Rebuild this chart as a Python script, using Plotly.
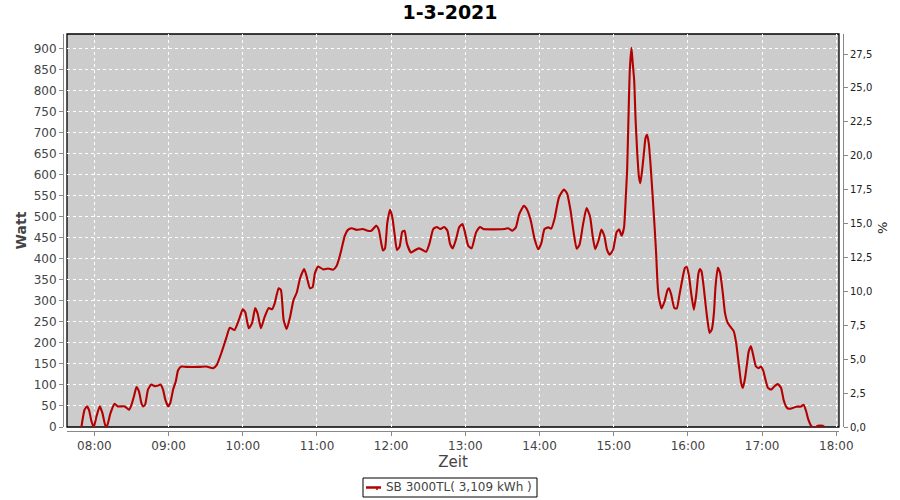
import plotly.graph_objects as go

DAY = "2021-03-01 "

times = [
    "07:49:30", "07:52:00", "07:54:00", "07:55:40", "07:57:40", "07:59:30", "08:01:40", "08:04:20",
    "08:06:30", "08:08:40", "08:10:00", "08:13:00", "08:16:20", "08:19:00", "08:24:30", "08:28:00",
    "08:30:00", "08:32:00", "08:34:00", "08:36:00", "08:38:00", "08:39:20", "08:41:00", "08:43:20",
    "08:46:00", "08:48:50", "08:51:00", "08:53:20", "08:55:30", "08:57:20", "08:59:40", "09:01:20",
    "09:03:40", "09:05:50", "09:07:40", "09:10:20", "09:14:20", "09:25:00", "09:30:30", "09:36:00",
    "09:39:00", "09:42:40", "09:46:40", "09:49:30", "09:53:20", "09:56:50", "10:00:00", "10:02:00",
    "10:04:50", "10:07:30", "10:10:00", "10:12:00", "10:14:40", "10:17:40", "10:21:00", "10:23:40",
    "10:25:40", "10:29:00", "10:30:50", "10:33:00", "10:35:30", "10:38:20", "10:41:00", "10:43:40",
    "10:46:20", "10:49:40", "10:51:40", "10:54:20", "10:56:30", "10:58:20", "11:01:00", "11:05:00",
    "11:09:00", "11:13:00", "11:15:50", "11:18:00", "11:20:00", "11:22:30", "11:25:00", "11:28:00",
    "11:32:00", "11:37:00", "11:41:00", "11:44:00", "11:48:00", "11:50:00", "11:52:00", "11:53:20",
    "11:55:00", "11:56:50", "11:59:00", "12:00:50", "12:02:40", "12:04:40", "12:06:50", "12:09:00",
    "12:10:50", "12:12:40", "12:16:00", "12:18:50", "12:22:20", "12:25:30", "12:28:20", "12:31:00",
    "12:34:00", "12:37:00", "12:39:40", "12:42:50", "12:45:30", "12:47:40", "12:49:50", "12:52:30",
    "12:55:00", "12:57:40", "12:59:40", "13:02:20", "13:05:00", "13:08:40", "13:11:50", "13:14:30",
    "13:32:00", "13:34:40", "13:38:00", "13:40:50", "13:43:30", "13:47:20", "13:49:20", "13:52:40",
    "13:56:00", "13:59:00", "14:01:30", "14:04:00", "14:07:00", "14:09:30", "14:12:00", "14:15:40",
    "14:19:40", "14:22:20", "14:25:10", "14:27:50", "14:30:00", "14:32:20", "14:35:10", "14:38:00",
    "14:40:50", "14:43:00", "14:45:00", "14:47:50", "14:50:00", "14:52:20", "14:54:30", "14:56:40",
    "14:59:30", "15:02:20", "15:04:20", "15:06:20", "15:08:20", "15:09:30", "15:10:50", "15:12:00",
    "15:13:00", "15:14:20", "15:15:20", "15:16:30", "15:17:40", "15:19:00", "15:20:20", "15:21:30",
    "15:23:00", "15:24:40", "15:25:40", "15:27:00", "15:28:20", "15:29:40", "15:31:40", "15:33:10",
    "15:34:20", "15:35:20", "15:36:20", "15:37:30", "15:38:40", "15:41:00", "15:43:30", "15:44:40",
    "15:46:30", "15:49:00", "15:51:00", "15:53:00", "15:55:30", "15:57:30", "15:59:00", "16:00:50",
    "16:02:40", "16:04:50", "16:06:40", "16:08:30", "16:09:40", "16:11:00", "16:12:40", "16:14:20",
    "16:16:00", "16:17:30", "16:19:20", "16:21:00", "16:22:20", "16:24:10", "16:26:00", "16:28:10",
    "16:30:00", "16:32:10", "16:35:00", "16:37:00", "16:39:00", "16:40:20", "16:41:40", "16:43:00",
    "16:44:20", "16:46:00", "16:47:50", "16:49:10", "16:51:00", "16:53:00", "16:55:00", "16:57:20",
    "16:59:00", "17:01:00", "17:02:40", "17:04:40", "17:07:20", "17:10:00", "17:12:40", "17:15:20",
    "17:17:20", "17:19:20", "17:20:50", "17:23:30", "17:27:30", "17:31:30", "17:33:30", "17:35:40",
    "17:37:00", "17:39:00", "17:40:30", "17:43:40", "17:45:00", "17:49:00", "17:50:30",
]

watt = [
    0, 41, 49, 40, 13, 0, 25, 49,
    33, 5, 0, 33, 55, 49, 49, 41,
    53, 73, 95, 85, 57, 49, 53, 89,
    101, 97, 98, 101, 89, 65, 49, 57,
    89, 109, 135, 144, 143, 143, 144, 140,
    148, 176, 212, 236, 231, 255, 280, 273,
    235, 247, 283, 270, 235, 262, 283, 280,
    293, 330, 326, 255, 233, 263, 302, 320,
    354, 376, 358, 330, 333, 366, 382, 375,
    377, 374, 383, 402, 425, 455, 469, 473,
    469, 471, 467, 467, 479, 469, 437, 420,
    425, 485, 517, 501, 461, 421, 429, 465,
    467, 437, 415, 420, 425, 421, 417, 437,
    471, 476, 471, 476, 467, 435, 425, 447,
    475, 483, 463, 431, 425, 463, 476, 471,
    471, 473, 467, 475, 506, 526, 520, 494,
    447, 423, 438, 471, 475, 472, 494, 546,
    565, 555, 513, 458, 424, 434, 482, 521,
    501, 453, 423, 445, 470, 455, 422, 410,
    422, 464, 470, 455, 475, 533, 612, 747,
    850, 902, 866, 826, 731, 652, 596, 580,
    612, 660, 687, 695, 675, 628, 540, 470,
    410, 345, 310, 294, 282, 298, 326, 330,
    315, 283, 282, 312, 352, 378, 381, 360,
    317, 279, 314, 365, 376, 370, 335, 290,
    250, 224, 232, 271, 335, 379, 367, 319,
    271, 248, 236, 228, 200, 168, 136, 105,
    93, 113, 152, 180, 192, 168, 144, 140,
    144, 133, 113, 93, 89, 97, 102, 93,
    65, 49, 44, 44, 48, 49, 53, 37,
    21, 6, 0, 0, 3, 3, 0,
]

series_name = "SB 3000TL( 3,109 kWh )"
title_text = "1-3-2021"
x_range = ["07:37:50", "18:02:10"]
y_range = [0, 935]
y2_range = [0, 28.98]

x = [DAY + t for t in times]

W, H = 900, 500
ml, mr, mt, mb = 63, 57, 34, 69
pw = W - ml - mr
ph = H - mt - mb
gap = 4
xd0, xd1 = gap / pw, 1 - gap / pw
yd0 = gap / ph

LINE = "#b40000"
AXC = "#888888"
TXT = "#444444"
FONT = "DejaVu Sans"


def px(xp):
    return (xp - ml) / pw


def py(yp):
    return (H - mb - yp) / ph


fig = go.Figure()
fig.add_trace(go.Scatter(
    x=x, y=watt, mode="lines", name=series_name, showlegend=False,
    line=dict(color=LINE, width=2.1, shape="spline", smoothing=0.5),
))
fig.add_trace(go.Scatter(
    x=[x[0]], y=[0], yaxis="y2", mode="lines", showlegend=False,
    hoverinfo="skip", line=dict(color="rgba(0,0,0,0)"),
))

# legend box (drawn to match the compact reference legend)
leg_x0, leg_x1, leg_y0, leg_y1 = 363, 537, 478, 497
leg_mid = (leg_y0 + leg_y1) / 2

fig.update_layout(
    width=W, height=H,
    margin=dict(l=ml, r=mr, t=mt, b=mb, autoexpand=False),
    paper_bgcolor="white",
    plot_bgcolor="#cccccc",
    separators=",.",
    font=dict(family=FONT, size=12, color=TXT),
    title=dict(text="<b>" + title_text + "</b>", x=0.5, xanchor="center",
               y=1 - 12 / H, yanchor="middle",
               font=dict(family=FONT, size=19, color="black")),
    showlegend=False,
    xaxis=dict(
        type="date", domain=[xd0, xd1], anchor="free", position=0,
        range=[DAY + x_range[0], DAY + x_range[1]],
        dtick=3600000, tick0=DAY + "08:00:00", tickformat="%H:%M",
        showgrid=True, gridcolor="white", griddash="dot", gridwidth=1,
        showline=True, linecolor=AXC, linewidth=1,
        ticks="outside", ticklen=4, tickcolor=AXC,
        tickfont=dict(family=FONT, size=12, color=TXT),
        title=dict(text="Zeit", font=dict(family=FONT, size=15, color=TXT), standoff=3),
        zeroline=False, automargin=False,
    ),
    yaxis=dict(
        domain=[yd0, 1], anchor="free", position=0,
        range=y_range, dtick=50, tick0=0,
        showgrid=True, gridcolor="white", griddash="dot", gridwidth=1,
        showline=True, linecolor=AXC, linewidth=1,
        ticks="outside", ticklen=4, tickcolor=AXC,
        tickfont=dict(family=FONT, size=12, color=TXT),
        title=dict(text="<b>Watt</b>", font=dict(family=FONT, size=14, color=TXT), standoff=2),
        zeroline=False, automargin=False,
    ),
    yaxis2=dict(
        overlaying="y", side="right", anchor="free", position=1,
        range=y2_range, dtick=2.5, tick0=0, tickformat=".1f",
        showgrid=False, zeroline=False,
        showline=True, linecolor=AXC, linewidth=1,
        ticks="outside", ticklen=4, tickcolor=AXC,
        tickfont=dict(family=FONT, size=10, color="#222222"),
        automargin=False,
    ),
    annotations=[
        dict(text="%", xref="paper", yref="paper", x=px(882), y=py(228),
             xanchor="center", yanchor="middle", textangle=-90, showarrow=False,
             font=dict(family=FONT, size=13, color="#222222")),
        dict(text=series_name, xref="paper", yref="paper", x=px(384), y=py(leg_mid),
             xanchor="left", yanchor="middle", showarrow=False,
             font=dict(family=FONT, size=12, color=TXT)),
    ],
    shapes=[
        dict(type="rect", xref="paper", yref="paper", x0=xd0, x1=xd1, y0=yd0, y1=1,
             line=dict(color="black", width=1.3), fillcolor="rgba(0,0,0,0)", layer="below"),
        dict(type="rect", xref="paper", yref="paper", x0=px(leg_x0), x1=px(leg_x1),
             y0=py(leg_y1), y1=py(leg_y0), line=dict(color="black", width=1),
             fillcolor="white"),
        dict(type="line", xref="paper", yref="paper", x0=px(366), x1=px(381),
             y0=py(leg_mid), y1=py(leg_mid), line=dict(color=LINE, width=2.5)),
        dict(type="line", xref="paper", yref="paper", x0=px(377), x1=px(377),
             y0=py(leg_mid), y1=py(leg_mid + 2.5), line=dict(color=LINE, width=1.5)),
    ],
)

fig.write_html("out.html", config={"displayModeBar": False},
               post_script="document.body.style.margin='0';document.body.style.overflow='hidden';")
